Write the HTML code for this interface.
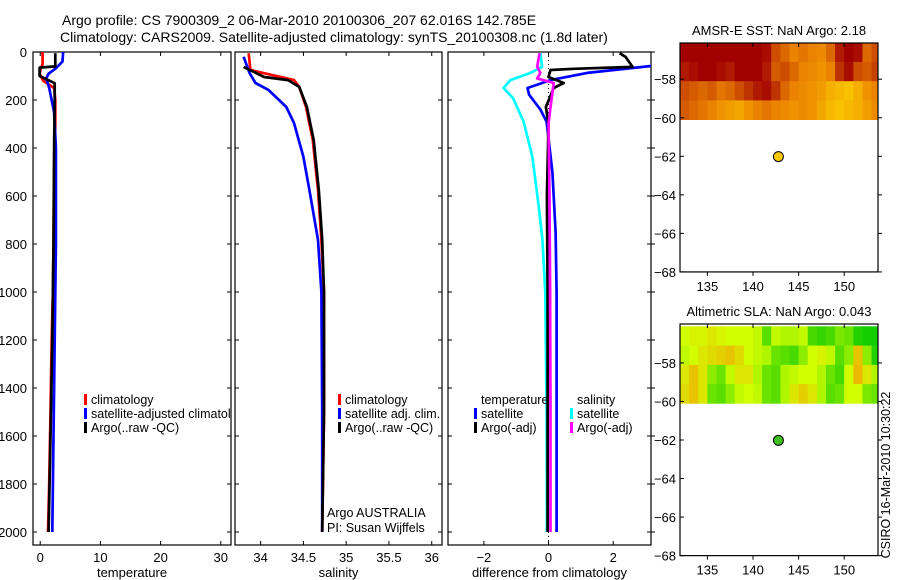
<!DOCTYPE html>
<html><head><meta charset="utf-8"><style>
html,body{margin:0;padding:0;background:#fff;}
svg{display:block;font-family:"Liberation Sans",sans-serif;}
</style></head><body>
<svg id="c" width="900" height="580" viewBox="0 0 900 580">
<defs>
<clipPath id="cp1"><rect x="33" y="52" width="198" height="493"/></clipPath>
<clipPath id="cp2"><rect x="235" y="52" width="207" height="493"/></clipPath>
<clipPath id="cp3"><rect x="448" y="52" width="203" height="493"/></clipPath>
</defs>
<text x="62" y="25" font-size="14">Argo profile: CS 7900309_2 06-Mar-2010 20100306_207 62.016S 142.785E</text>
<text x="60" y="42" font-size="14">Climatology: CARS2009. Satellite-adjusted climatology: synTS_20100308.nc (1.8d later)</text>
<g id="g"></g>
</svg>
<script>
// ---- depth axis ----
const depthTicks=[0,200,400,600,800,1000,1200,1400,1600,1800,2000];
// ---- temperature panel ----
const tTicks=[0,10,20,30];
const tClimDepth=[0,50,70,90,120,150,200,300,500,800,1000,1200,1500,1800,2000];
const tClim=[0.4,0.4,0.1,-0.1,0.5,2.3,2.5,2.5,2.3,2.2,2.1,1.9,1.7,1.5,1.3];
const tArgoDepth=[5,60,65,100,130,200,400,800,1200,1600,2000];
const tArgo=[2.5,2.5,-0.1,-0.1,2.4,2.4,2.3,2.2,2.0,1.7,1.4];
const tSatDepth=[0,40,70,90,110,150,250,400,800,1200,1600,2000];
const tSat=[3.8,3.7,2.5,1.4,1.0,1.5,2.3,2.6,2.6,2.4,2.2,2.0];
// ---- salinity panel ----
const sTicks=[34,34.5,35,35.5,36];
const sClimDepth=[5,75,117,145,229,367,575,783,1000,1500,2000];
const sClim=[33.86,33.88,34.39,34.45,34.53,34.61,34.67,34.71,34.74,34.74,34.72];
const sArgoDepth=[62,104,117,145,229,367,575,783,1000,1500,2000];
const sArgo=[33.8,34.04,34.32,34.45,34.54,34.62,34.68,34.72,34.74,34.74,34.72];
const sSatDepth=[20,87,129,158,229,296,437,575,783,1000,1500,2000];
const sSat=[33.8,33.87,33.94,34.09,34.3,34.39,34.5,34.57,34.67,34.71,34.72,34.72];
// ---- difference panel ----
const dTicks=[-2,0,2];
const dSSatDepth=[5,62,87,117,150,192,290,437,646,780,1000,1500,2000];
const dSSat=[-0.25,-0.2,-0.56,-1.18,-1.39,-1.1,-0.77,-0.5,-0.3,-0.19,-0.1,-0.06,-0.05];
const dSArgoDepth=[5,62,87,110,129,229,300,600,1000,1500,2000];
const dSArgo=[-0.28,-0.35,-0.25,-0.35,0.16,0.06,0.0,0.03,0.05,0.06,0.06];
const dTSatDepth=[55,87,117,150,178,240,290,500,750,1000,1500,2000];
const dTSat=[3.4,1.2,0.06,-0.65,-0.6,-0.25,-0.06,0.12,0.22,0.25,0.25,0.25];
const dTArgoDepth=[5,20,62,70,75,104,129,150,229,300,600,1000,1500,2000];
const dTArgo=[2.2,2.38,2.6,0.78,0.06,0.0,0.47,0.16,-0.08,0.0,-0.05,-0.03,-0.03,-0.03];
// ---- maps ----
const lonTicks=[135,140,145,150];
const latTicks=[-58,-60,-62,-64,-66,-68];
const gridLons=[132,133,134,135,136,137,138,139,140,141,142,143,144,145,146,147,148,149,150,151,152,153];
const gridLats=[-56.1,-57.1,-58.1,-59.1];
const sstRows=[
[0,0,0,0,0,0,0,0,0,0.05,0.3,0.4,0.5,0.45,0.5,0.55,0.4,0.1,0,0.05,0.4,0.3],
[0.1,0.05,0,0,0.05,0.1,0,0,0,0.1,0.35,0.3,0.4,0.5,0.55,0.6,0.5,0.2,0.05,0.3,0.35,0.25],
[0.3,0.35,0.4,0.35,0.45,0.4,0.3,0.2,0.1,0.05,0.2,0.4,0.5,0.55,0.6,0.65,0.75,0.8,0.85,0.75,0.6,0.5],
[0.35,0.4,0.45,0.5,0.6,0.65,0.7,0.6,0.5,0.45,0.5,0.55,0.6,0.55,0.6,0.7,0.8,0.85,0.8,0.75,0.65,0.55]];
const slaRows=[
[0.6,0.65,0.65,0.7,0.65,0.6,0.6,0.6,0.55,0.25,0.55,0.5,0.5,0.55,0.2,0.15,0.2,0.35,0.3,0.1,0.05,0.05],
[0.55,0.6,0.7,0.75,0.8,0.85,0.75,0.6,0.55,0.5,0.3,0.25,0.2,0.4,0.6,0.65,0.55,0.25,0.4,0.85,0.4,0.1],
[0.7,0.85,0.7,0.4,0.3,0.55,0.7,0.7,0.5,0.3,0.25,0.5,0.55,0.6,0.6,0.5,0.3,0.2,0.6,0.9,0.7,0.5],
[0.75,0.85,0.7,0.3,0.25,0.4,0.55,0.6,0.55,0.3,0.25,0.5,0.7,0.8,0.7,0.5,0.25,0.3,0.6,0.6,0.35,0.3]];
const argoLon=142.785, argoLat=-62.016;

const NS="http://www.w3.org/2000/svg";
const G=document.getElementById('g');
function mk(tag,at,parent){const e=document.createElementNS(NS,tag);for(const k in at)e.setAttribute(k,at[k]);(parent||G).appendChild(e);return e;}
const yD=d=>52+d*0.24;
const P=[
 {x0:33,x1:231,v0:-1.2,v1:31.7,cp:'cp1',name:'temperature'},
 {x0:235,x1:442,v0:33.7,v1:36.12,cp:'cp2',name:'salinity'},
 {x0:448,x1:651,v0:-3.11,v1:3.17,cp:'cp3',name:'difference'}];
function xv(p,v){return p.x0+(v-p.v0)/(p.v1-p.v0)*(p.x1-p.x0);}

function frame(p,ticks,labelTxt,showY,outer){
 const r=mk('rect',{x:p.x0,y:52,width:p.x1-p.x0,height:493,fill:'none',stroke:'#000','stroke-width':1.2});
 
 
 depthTicks.forEach(d=>{
  const y=yD(d);
  mk('line',{x1:p.x0,x2:p.x0+4,y1:y,y2:y,stroke:'#000'});
  mk('line',{x1:p.x1,x2:p.x1-4,y1:y,y2:y,stroke:'#000'});
  if(outer) mk('line',{x1:p.x1,x2:p.x1+4,y1:y,y2:y,stroke:'#000'});
  if(showY){const t=mk('text',{x:p.x0-6,y:y+5,'font-size':13,'text-anchor':'end'});t.textContent=d;
   
   }
 });
 ticks.forEach(v=>{
  const x=xv(p,v);
  mk('line',{x1:x,x2:x,y1:52,y2:56,stroke:'#000'});
  mk('line',{x1:x,x2:x,y1:545,y2:541,stroke:'#000'});
  const t=mk('text',{x:x,y:562,'font-size':13,'text-anchor':'middle'});t.textContent=(v<0?'\u2212'+(-v):v);
  
  
 });
 const l=mk('text',{x:(p.x0+p.x1)/2,y:577,'font-size':13,'text-anchor':'middle'});l.textContent=labelTxt;
 
 
}
function line(p,depths,vals,color,name,w){
 const pts=depths.map((d,i)=>xv(p,vals[i]).toFixed(1)+','+yD(d).toFixed(1)).join(' ');
 const e=mk('polyline',{points:pts,fill:'none',stroke:color,'stroke-width':w||2.7,'stroke-linejoin':'round','clip-path':'url(#'+p.cp+')'});
 
 
}
function legend(x,y,items,cp){
 items.forEach((it,i)=>{
  const yy=y+i*14;
  if(it.c){mk('rect',{x:x,y:yy-10,width:3,height:11,fill:it.c});}
  const at={x:x+7,y:yy,'font-size':12.5};
  if(cp) at['clip-path']='url(#'+cp+')';
  const t=mk('text',at);t.textContent=it.t;
  
  
 });
}
frame(P[0],tTicks,'temperature',true,false);
frame(P[1],sTicks,'salinity',false,false);
frame(P[2],dTicks,'difference from climatology',false,true);
// zero line
const z=mk('line',{x1:xv(P[2],0),x2:xv(P[2],0),y1:52,y2:545,stroke:'#000','stroke-dasharray':'1,3'});



line(P[0],tClimDepth,tClim,'#f00','temp-climatology-line');
line(P[0],tSatDepth,tSat,'#00f','temp-satellite-line');
line(P[0],tArgoDepth,tArgo,'#000','temp-argo-line');
line(P[1],sClimDepth,sClim,'#f00','sal-climatology-line');
line(P[1],sSatDepth,sSat,'#00f','sal-satellite-line');
line(P[1],sArgoDepth,sArgo,'#000','sal-argo-line');
line(P[2],dSSatDepth,dSSat,'#0ff','diff-sal-satellite-line');
line(P[2],dTSatDepth,dTSat,'#00f','diff-temp-satellite-line');
line(P[2],dTArgoDepth,dTArgo,'#000','diff-temp-argo-line');
line(P[2],dSArgoDepth,dSArgo,'#f0f','diff-sal-argo-line');

legend(84,404,[{c:'#f00',t:'climatology'},{c:'#00f',t:'satellite-adjusted climatology'},{c:'#000',t:'Argo(..raw -QC)'}],'cp1');
legend(338,404,[{c:'#f00',t:'climatology'},{c:'#00f',t:'satellite adj. clim.'},{c:'#000',t:'Argo(..raw -QC)'}]);
legend(474,404,[{t:'temperature'},{c:'#00f',t:'satellite'},{c:'#000',t:'Argo(-adj)'}]);
legend(570,404,[{t:'salinity'},{c:'#0ff',t:'satellite'},{c:'#f0f',t:'Argo(-adj)'}]);
const a1=mk('text',{x:327,y:517,'font-size':12.5});a1.textContent='Argo AUSTRALIA';


const a2=mk('text',{x:327,y:532,'font-size':12.5});a2.textContent='PI: Susan Wijffels';



// ---- maps ----
function lerp(a,b,t){return a.map((v,i)=>Math.round(v+(b[i]-v)*t));}
function sstColor(v){return v<0.5?lerp([160,0,0],[235,130,0],v/0.5):lerp([235,130,0],[255,220,0],(v-0.5)/0.5);}
function slaColor(v){return v<0.6?lerp([0,200,0],[210,255,0],v/0.6):lerp([210,255,0],[245,160,0],(v-0.6)/0.4);}
function map(top,title,rows,cfn,dotColor,nm){
 const x0=680,x1=878,lon0=132,lon1=153.7,latTop=top.latTop,y0=top.y,ppd=19.27;
 const X=l=>x0+(l-lon0)/(lon1-lon0)*(x1-x0), Y=l=>y0+(latTop-l)*ppd;
 const yb=Y(-68);
 rows.forEach((row,ri)=>{
  const la=gridLats[ri];
  row.forEach((v,ci)=>{
   const lo=gridLons[ci];
   const xa=X(lo),xb=Math.min(X(lo+1),x1);
   const ya=Math.max(Y(la),y0),yb2=Y(la-1);
   const c=cfn(v);
   const r=mk('rect',{x:xa.toFixed(1),y:ya.toFixed(1),width:(xb-xa+0.5).toFixed(1),height:(yb2-ya+0.3).toFixed(1),fill:'rgb('+c.join(',')+')'});
   
   
  });
 });
 const f=mk('rect',{x:x0,y:y0,width:x1-x0,height:yb-y0,fill:'none',stroke:'#000','stroke-width':1.2});
 
 
 latTicks.forEach(l=>{const y=Y(l);
  mk('line',{x1:x0,x2:x0+4,y1:y,y2:y,stroke:'#000'});mk('line',{x1:x1,x2:x1+4,y1:y,y2:y,stroke:'#000'});
  const t=mk('text',{x:x0-4,y:y+5,'font-size':13,'text-anchor':'end'});t.textContent='\u2212'+(-l);
  
  });
 lonTicks.forEach(l=>{const x=X(l);
  mk('line',{x1:x,x2:x,y1:y0,y2:y0+4,stroke:'#000'});mk('line',{x1:x,x2:x,y1:yb,y2:yb+4,stroke:'#000'});
  const t=mk('text',{x:x,y:yb+19,'font-size':13,'text-anchor':'middle'});t.textContent=l;
  
  });
 const tt=mk('text',{x:(x0+x1)/2,y:y0-8,'font-size':13,'text-anchor':'middle'});tt.textContent=title;
 
 
 const d=mk('circle',{cx:X(argoLon),cy:Y(argoLat),r:5,fill:dotColor,stroke:'#000','stroke-width':1});
 
 
}
map({y:43,latTop:-56.12},'AMSR-E SST: NaN Argo: 2.18',sstRows,sstColor,'#f5c800','sst');
map({y:324,latTop:-55.98},'Altimetric SLA: NaN Argo: 0.043',slaRows,slaColor,'#40c020','sla');
const cs=mk('text',{x:0,y:0,'font-size':12.5,'text-anchor':'middle',transform:'translate(890,475) rotate(-90)'});cs.textContent='CSIRO 16-Mar-2010 10:30:22';


</script>
</body></html>
